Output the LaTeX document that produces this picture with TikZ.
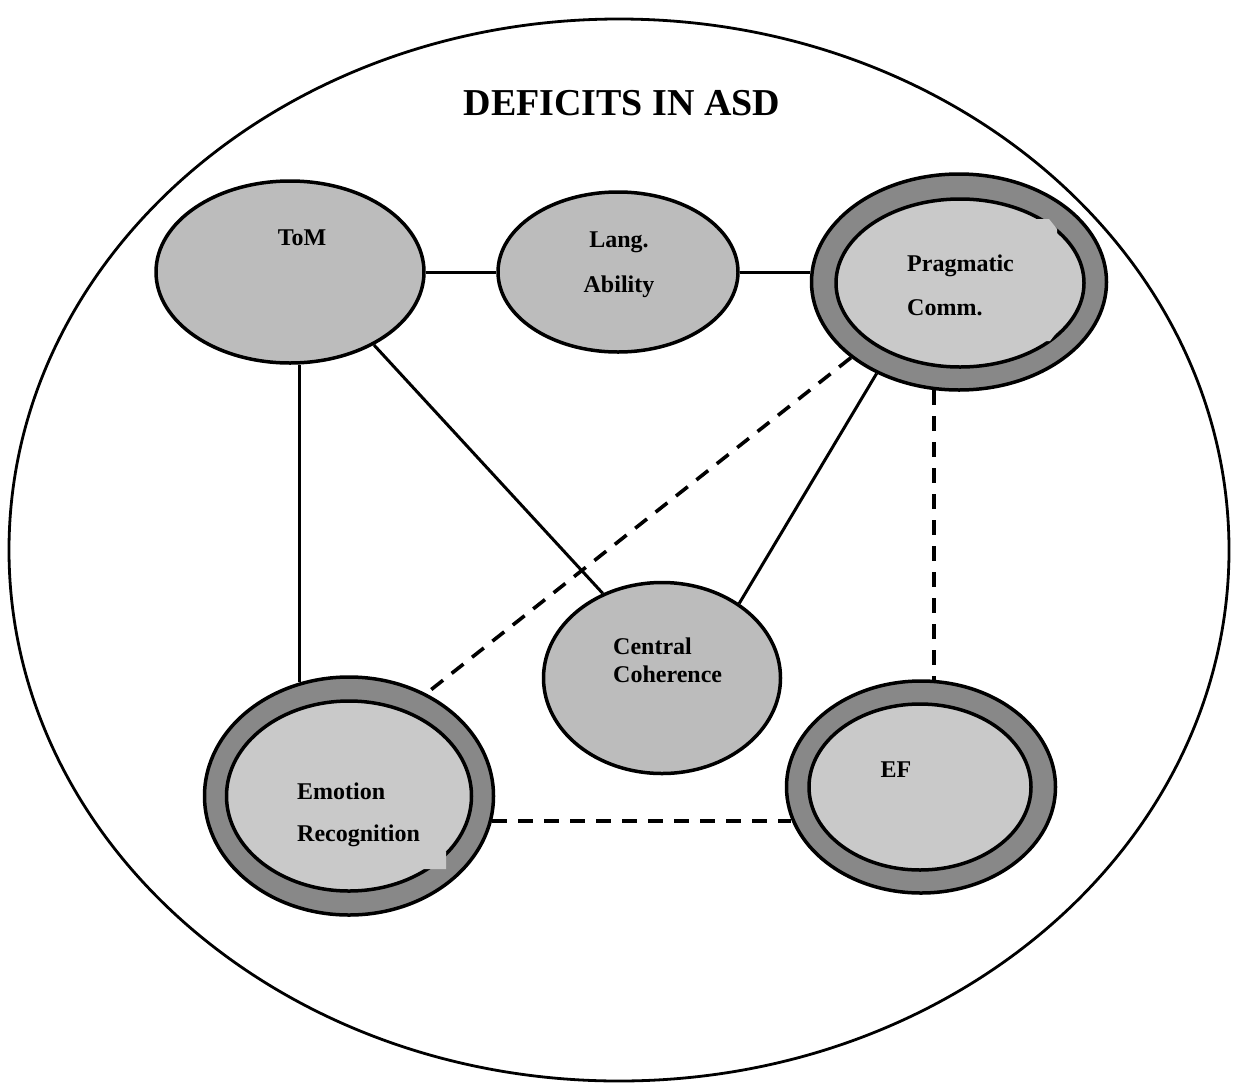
\documentclass[tikz,border=0pt]{standalone}
\usepackage{fontspec}
\setmainfont{Liberation Serif}
\usetikzlibrary{shapes.geometric}
\definecolor{ovalgray}{RGB}{188,188,188}
\definecolor{innergray}{RGB}{201,201,201}
\definecolor{ringgray}{RGB}{136,136,136}

\begin{document}
\begin{tikzpicture}[x=1pt,y=-1pt,
          oval/.style={draw,ellipse,line width=3.5pt,inner sep=0pt,fill=ovalgray},
          ring/.style={oval,fill=ringgray},
          core/.style={oval,fill=innergray},
          lbl/.style={font=\fontsize{24}{28}\selectfont\bfseries,inner sep=0pt},
          link/.style={line width=3pt},
          weak/.style={line width=3.6pt,dash pattern=on 15pt off 11pt}]
        \useasboundingbox (0,0) rectangle (1236,1087);
        \draw[line width=2.8pt] (619,550) ellipse [x radius=610pt,y radius=531pt];
        \node[font=\fontsize{38}{44}\selectfont\bfseries](title) at (622,103)
          {DEFICITS IN ASD};
        \node[oval,minimum width=268pt,minimum height=182pt](tom) at (290,272) {};
        \node[oval,minimum width=240pt,minimum height=160pt](lang) at (618,272) {};
        \node[ring,minimum width=295pt,minimum height=216pt](prag) at (959,282) {};
        \node[core,minimum width=248pt,minimum height=168pt](pragin) at (960,283) {};
        \node[oval,minimum width=237pt,minimum height=191pt](cc) at (662,678) {};
        \node[ring,minimum width=289pt,minimum height=238pt](emo) at (349,796) {};
        \node[core,minimum width=245pt,minimum height=190pt](emoin) at (349,796) {};
        \node[ring,minimum width=269pt,minimum height=212pt](ef) at (921,787) {};
        \node[core,minimum width=222pt,minimum height=166pt](efin) at (920,787) {};
        \fill[innergray] (1030,219)--(1049,219)--(1057,229)--(1057,332)--(1050,341)--(1030,341)--cycle;
        \fill[innergray] (420,846)--(440,846)--(446,852)--(446,869)--(420,869)--cycle;
        \node[lbl,anchor=north](tomtxt) at (302,230) {ToM};
        \node[lbl,anchor=north,align=center](langtxt) at (619,232) {Lang.\\[17pt]Ability};
        \node[lbl,anchor=north west,align=left](pragtxt) at (907,255) {Pragmatic\\[16pt]Comm.};
        \node[lbl,anchor=north west,align=left](cctxt) at (613,638) {Central\\Coherence};
        \node[lbl,anchor=north west,align=left](emotxt) at (297,783) {Emotion\\[14pt]Recognition};
        \node[lbl,anchor=north](eftxt) at (896,762) {EF};
        \draw[link](tom)--(lang);
        \draw[link](lang)--(lang -| prag.west);
        \draw[link](tom.-84)--(tom.-84 |- emo.113);
        \draw[link](tom.-41)--(cc.125);
        \draw[link](prag.228)--(cc.44);
        \draw[weak](prag.215)--(emo.53);
        \draw[weak](prag.-103)--(prag.-103 |- ef.84);
        \draw[weak](emo.-10)--(emo.-10 -| ef.194);
      \end{tikzpicture}
\end{document}
